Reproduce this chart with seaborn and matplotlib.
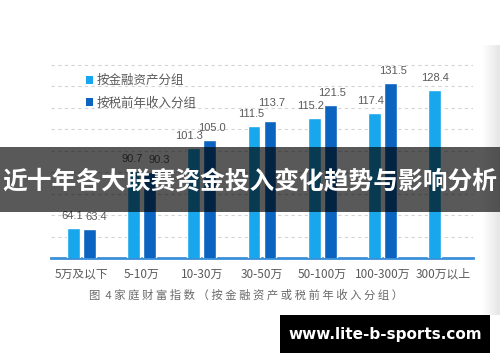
import numpy as np
import pandas as pd
import matplotlib
matplotlib.use("Agg")
import matplotlib.pyplot as plt
import seaborn as sns
from matplotlib.patches import Rectangle, Patch

categories = ["5万及以下", "5-10万", "10-30万", "30-50万", "50-100万", "100-300万", "300万以上"]
asset_values = [64.1, 90.7, 101.3, 111.5, 115.2, 117.4, 128.4]
income_values = [63.4, 90.3, 105.0, 113.7, 121.5, 131.5, np.nan]
series_names = ["按金融资产分组", "按税前年收入分组"]
caption = "图 4家庭财富指数（按金融资产或税前年收入分组）"
banner = "近十年各大联赛资金投入变化趋势与影响分析"
watermark = "www.lite-b-sports.com"

# nudges (in pixels) of the value labels, per series: horizontal and upward
label_nudge = [[-1, -1, -5, -3, -4, -4, 0], [7, 10, 2, 2, 2, 2, 0]]
label_lift = [[0, 0, 0, 0, 0, 0, 0], [0, 0, 0, 6, 0, 0, 0]]

sns.set_theme(style="white")
plt.rcParams['font.family'] = ['Noto Sans CJK SC', 'DejaVu Sans']

df = pd.DataFrame({
    "cat": categories * 2,
    "val": asset_values + income_values,
    "series": [series_names[0]] * len(categories) + [series_names[1]] * len(categories),
})

W, H = 500, 362
fig = plt.figure(figsize=(W / 100, H / 100), dpi=100)
fig.patch.set_facecolor("white")

def fx(x):
    return x / W

def fy(y):
    return 1 - y / H

ax_l, ax_r = 51, 473
y_top_val, y_bot_val = 142, 50
px_per = 2.146
y_base = 258
y_top = y_base - (y_top_val - y_bot_val) * px_per
ax = fig.add_axes([fx(ax_l), fy(y_base), fx(ax_r - ax_l), (y_base - y_top) / H])

colors = ["#18a6ec", "#0a64c0"]
sns.barplot(data=df, x="cat", y="val", hue="series", palette=colors, width=0.53, gap=0.19,
            ax=ax, legend=False, saturation=1, zorder=3)

ax.set_xlim(-0.5, 6.5)
ax.set_ylim(y_bot_val, y_top_val)
for g in range(60, 141, 10):
    ax.axhline(g, color="#d4d4d4", lw=0.8, ls=(0, (3, 3)), zorder=1)

for side in ["top", "right", "left"]:
    ax.spines[side].set_visible(False)
ax.spines["bottom"].set_color("#3b8fd8")
ax.spines["bottom"].set_linewidth(2)
ax.set_yticks([])
ax.set_xlabel("")
ax.set_ylabel("")
ax.tick_params(axis="x", length=0, pad=7, labelsize=8.5, labelcolor="#5a5a5a")

for si, cont in enumerate(ax.containers):
    labels = ["" if np.isnan(v) else f"{v:.1f}" for v in cont.datavalues]
    texts = ax.bar_label(cont, labels=labels, padding=5, fontsize=8, color="#5a5a5a",
                         family=["Liberation Sans", "DejaVu Sans"])
    for i, t in enumerate(texts):
        dx = label_nudge[si][i] * 72 / 100
        dy = label_lift[si][i] * 72 / 100
        t.xyann = (t.xyann[0] + dx, t.xyann[1] + dy)

handles = [Patch(facecolor=c, edgecolor="none") for c in colors]
fig.legend(handles, series_names, loc="upper left", bbox_to_anchor=(fx(75), fy(63)),
           frameon=False, fontsize=9, labelcolor="#5a5a5a", handlelength=0.55,
           handleheight=0.55, handletextpad=0.3, labelspacing=0.75)

spaced_caption = " ".join(caption.replace(" ", ""))
spaced_caption = spaced_caption.replace("图 4", "图  4")
fig.text(fx(246), fy(295), spaced_caption, ha="center", va="center", fontsize=8.2,
         color="#6a6a6a")

# right-edge shading
gax = fig.add_axes([fx(482), fy(315), fx(18), (315 - 45) / H])
grad = np.linspace(1.0, 0.9, 50).reshape(1, -1)
gax.imshow(np.dstack([grad, grad, grad]), aspect="auto", extent=[0, 1, 0, 1])
gax.axis("off")
gax.set_zorder(-1)

# banner overlay
fig.add_artist(Rectangle((0, fy(212)), 1, (212 - 147) / H, transform=fig.transFigure,
                         facecolor="black", alpha=0.65, edgecolor="none", zorder=5))
fig.text(0.5, fy(181), banner, ha="center", va="center", fontsize=17.8, color="white",
         fontweight="bold", zorder=6)

# watermark box
fig.add_artist(Rectangle((fx(280), fy(353)), fx(210), (353 - 315) / H, transform=fig.transFigure,
                         facecolor="black", edgecolor="none", zorder=5))
fig.text(fx(385), fy(334), watermark, ha="center", va="center", fontsize=11, color="white",
         fontweight="bold", family=["DejaVu Sans"], zorder=6)

fig.savefig("out.png", dpi=100)
